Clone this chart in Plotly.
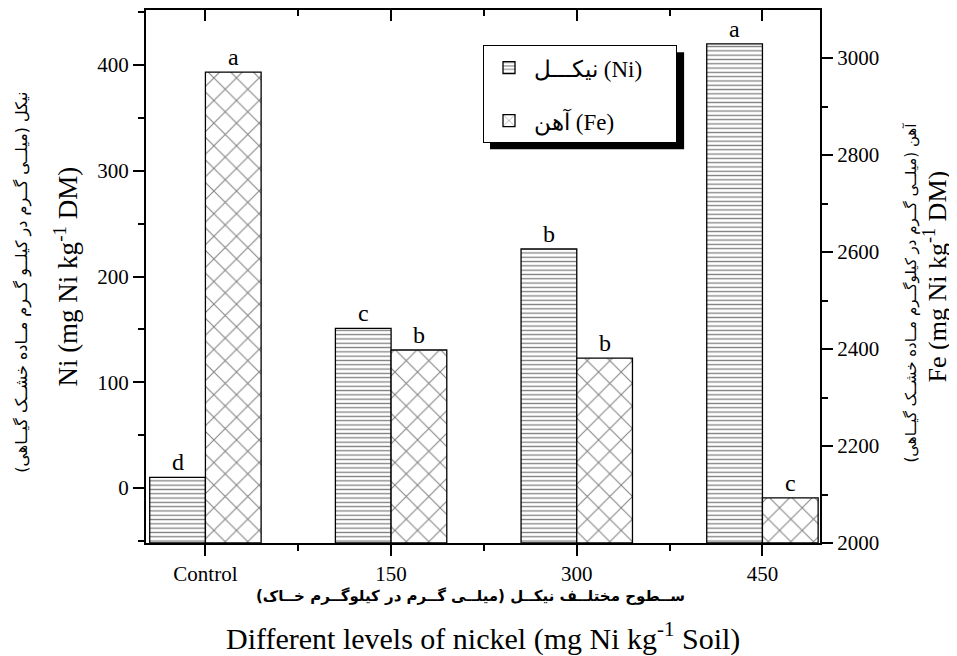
import plotly.graph_objects as go

# ---- data ----
categories = ["Control", "150", "300", "450"]
ni_values = [10, 151, 226, 420]          # mg Ni kg-1 DM (left axis)
fe_values = [2971, 2398, 2381, 2093]     # mg kg-1 DM (right axis)
ni_letters = ["d", "c", "b", "a"]
fe_letters = ["a", "b", "b", "c"]
ni_name = "نیکـــل (Ni)" + "\u00a0" * 5
fe_name = "آهن (Fe)"

ni_range = [-52, 452]
fe_range = [2000, 3099]
x_range = [-0.32, 3.31]
pos = list(range(len(categories)))
bar_w = 0.3

SERIF = "Liberation Serif"
FA = "DejaVu Sans"

fig = go.Figure()

fig.add_trace(go.Bar(
    x=pos, y=[v - ni_range[0] for v in ni_values], base=[ni_range[0]] * len(pos),
    width=bar_w, offset=-bar_w, name=ni_name, yaxis="y", xaxis="x",
    marker=dict(color="white", line=dict(color="black", width=1.3),
                pattern=dict(shape="-", fgcolor="black", bgcolor="white", size=4.3, solidity=0.3)),
    legendgroup="ni",
))
fig.add_trace(go.Bar(
    x=pos, y=[v - fe_range[0] for v in fe_values], base=[fe_range[0]] * len(pos),
    width=bar_w, offset=0, name=fe_name, yaxis="y2", xaxis="x",
    marker=dict(color="white", line=dict(color="black", width=1.3),
                pattern=dict(shape="x", fgcolor="black", bgcolor="white", size=16, solidity=0.12)),
    legendgroup="fe",
))

ann = []
for p, v, l in zip(pos, ni_values, ni_letters):
    ann.append(dict(x=p - bar_w / 2, y=v, xref="x", yref="y", text=l, showarrow=False,
                    xanchor="center", yanchor="bottom", yshift=0,
                    font=dict(family=SERIF, size=24, color="black")))
for p, v, l in zip(pos, fe_values, fe_letters):
    ann.append(dict(x=p + bar_w / 2, y=v, xref="x", yref="y2", text=l, showarrow=False,
                    xanchor="center", yanchor="bottom", yshift=0,
                    font=dict(family=SERIF, size=24, color="black")))

# axis titles
ann += [
    dict(x=-0.12, y=0.5, xref="paper", yref="paper", text="Ni (mg Ni kg<sup>-1</sup> DM)",
         xanchor="center", yanchor="middle",
         textangle=-90, showarrow=False, font=dict(family=SERIF, size=27, color="black")),
    dict(x=-0.184, y=0.49, xref="paper", yref="paper",
         text="نیکل (میلــی گــرم در کیلــو گــرم مــاده خشــک گیــاهی)",
         xanchor="center", yanchor="middle",
         textangle=-90, showarrow=False, font=dict(family=FA, size=16, color="black")),
    dict(x=1.172, y=0.5, xref="paper", yref="paper", text="Fe (mg Ni kg<sup>-1</sup> DM)",
         xanchor="center", yanchor="middle",
         textangle=-90, showarrow=False, font=dict(family=SERIF, size=26, color="black")),
    dict(x=1.135, y=0.47, xref="paper", yref="paper",
         text="آهن (میلــی گــرم در کیلوگــرم مــاده خشــک گیــاهی)",
         xanchor="center", yanchor="middle",
         textangle=-90, showarrow=False, font=dict(family=FA, size=15, color="black")),
    dict(x=0.481, y=-0.1, xref="paper", yref="paper",
         text="<b>ســطوح مختلــف نیکــل (میلــی گــرم در کیلوگــرم خــاک)</b>",
         xanchor="center", yanchor="middle",
         showarrow=False, font=dict(family=FA, size=15, color="black")),
    dict(x=0.5, y=-0.175, xref="paper", yref="paper",
         text="Different levels of nickel (mg Ni kg<sup>-1</sup> Soil)",
         xanchor="center", yanchor="middle",
         showarrow=False, font=dict(family=SERIF, size=30, color="black")),
]

axis_common = dict(showgrid=False, zeroline=False, linecolor="black", linewidth=2,
                   tickcolor="black", tickwidth=2, ticks="outside",
                   tickfont=dict(family=SERIF, size=21, color="black"))

# legend frame position (paper coords) and its drop shadow
leg_x0, leg_y1 = 0.5, 0.934
leg_x1, leg_y0 = 0.788, 0.752
sh_dx, sh_dy = 7 / 674, 7 / 533

fig.update_layout(
    width=949, height=648,
    margin=dict(l=138, r=137, t=2, b=113),
    paper_bgcolor="white", plot_bgcolor="white",
    barmode="overlay",
    showlegend=True,
    legend=dict(x=leg_x0, y=leg_y1, xanchor="left", yanchor="top",
                bgcolor="white", bordercolor="black", borderwidth=1,
                font=dict(family=SERIF, size=23, color="black"),
                tracegroupgap=20, itemwidth=40, traceorder="grouped"),
    xaxis=dict(**axis_common, range=x_range, tickvals=pos, ticktext=categories, ticklen=11,
               minor=dict(dtick=0.5, tick0=0.5, ticks="outside", ticklen=6, tickcolor="black", tickwidth=2),
               showline=True),
    xaxis2=dict(overlaying="x", side="top", anchor="y", range=x_range, showgrid=False,
                zeroline=False, showline=True, linecolor="black", linewidth=2,
                ticks="inside", tickvals=pos, ticklen=11, tickcolor="black", tickwidth=2,
                showticklabels=False,
                minor=dict(dtick=0.5, tick0=0.5, ticks="inside", ticklen=6, tickcolor="black", tickwidth=2)),
    yaxis=dict(**axis_common, range=ni_range, tickvals=[0, 100, 200, 300, 400], ticklen=11,
               minor=dict(dtick=50, tick0=50, ticks="outside", ticklen=6, tickcolor="black", tickwidth=2),
               showline=True),
    yaxis2=dict(**axis_common, range=fe_range, overlaying="y", side="right", anchor="x",
                tickvals=[2000, 2200, 2400, 2600, 2800, 3000], ticklen=11,
                minor=dict(dtick=100, tick0=2100, ticks="outside", ticklen=6, tickcolor="black", tickwidth=2),
                showline=True),
    annotations=ann,
    shapes=[dict(type="rect", xref="paper", yref="paper",
                 x0=leg_x0 + sh_dx, x1=leg_x1 + sh_dx, y0=leg_y0 - sh_dy, y1=leg_y1 - sh_dy,
                 fillcolor="black", line=dict(width=0), layer="above")],
)

# invisible trace so the top axis is drawn
fig.add_trace(go.Scatter(x=[x_range[0]], y=[ni_range[0]], xaxis="x2", yaxis="y",
                         mode="markers", marker=dict(opacity=0), showlegend=False, hoverinfo="skip"))

fig.write_html("out.html")
